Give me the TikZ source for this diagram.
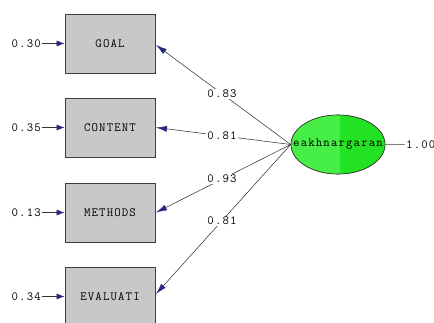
\documentclass[tikz,border=0pt]{standalone}
\usepackage{fontspec}
\setmonofont{Latin Modern Mono}[LetterSpace=9]
\usetikzlibrary{arrows.meta,shapes.geometric}
\definecolor{boxgray}{RGB}{200,200,200}
\definecolor{boxedge}{RGB}{60,60,60}
\definecolor{headblue}{RGB}{40,40,130}
\definecolor{latgreenL}{RGB}{70,238,70}
\definecolor{latgreenR}{RGB}{35,226,35}
\begin{document}
\begin{tikzpicture}[x=1pt,y=-1pt,
  every node/.style={font=\ttfamily\fontsize{12.5}{13}\selectfont, inner sep=1pt},
  obsbox/.style={draw=boxedge, fill=boxgray, minimum width=90pt, minimum height=59pt, line width=0.8pt},
  latent/.style={ellipse, draw=black!80, minimum width=94pt, minimum height=59pt, inner sep=0pt, line width=0.6pt},
  errlab/.style={anchor=east},
  errarrow/.style={draw=black!80, line width=0.6pt, -{Latex[length=8pt,width=6pt,color=headblue]}},
  load/.style={draw=black!85, line width=0.5pt, -{Latex[length=11pt,width=6pt,color=headblue]}},
  loadlab/.style={fill=white, inner sep=1pt}
]
\useasboundingbox (0,0) rectangle (434,323);
\begin{scope}
\clip (0,0) rectangle (434,323);
\node[obsbox] (goal) at (110,43.5) {GOAL};
\node[obsbox] (content) at (110,127.5) {CONTENT};
\node[obsbox] (methods) at (110,212.5) {METHODS};
\node[obsbox] (eval) at (110,296.5) {EVALUATI};

\node[latent] (lat) at (338,144.5) {};
\begin{scope}
\clip (lat.center) ellipse (47pt and 29.5pt);
\fill[latgreenL] (291,110) rectangle (340,180);
\fill[latgreenR] (340,110) rectangle (386,180);
\end{scope}
\draw[black!80, line width=0.6pt] (lat.center) ellipse (47pt and 29.5pt);
\node (latname) at (lat.center) {eakhnargaran};

\node[errlab] (e1) at (42,43.5) {0.30};
\node[errlab] (e2) at (42,127.5) {0.35};
\node[errlab] (e3) at (42,212.5) {0.13};
\node[errlab] (e4) at (42,296.5) {0.34};
\draw[errarrow] (e1.east) -- (goal.west);
\draw[errarrow] (e2.east) -- (content.west);
\draw[errarrow] (e3.east) -- (methods.west);
\draw[errarrow] (e4.east) -- (eval.west);

\coordinate (src) at (lat.west);
\coordinate (t1) at (156,45);
\coordinate (t2) at (156,127.5);
\coordinate (t3) at (156,212.5);
\coordinate (t4) at (156,294);
\draw[load] (src) -- node[loadlab, pos=0.51] {0.83} (t1);
\draw[load] (src) -- node[loadlab, pos=0.51] {0.81} (t2);
\draw[load] (src) -- node[loadlab, pos=0.51] {0.93} (t3);
\draw[load] (src) -- node[loadlab, pos=0.51] {0.81} (t4);

\node[anchor=west] (var) at (405,144.5) {1.00};
\draw[black!50, line width=0.5pt] (lat.east) -- (var.west);
\end{scope}
\end{tikzpicture}
\end{document}
